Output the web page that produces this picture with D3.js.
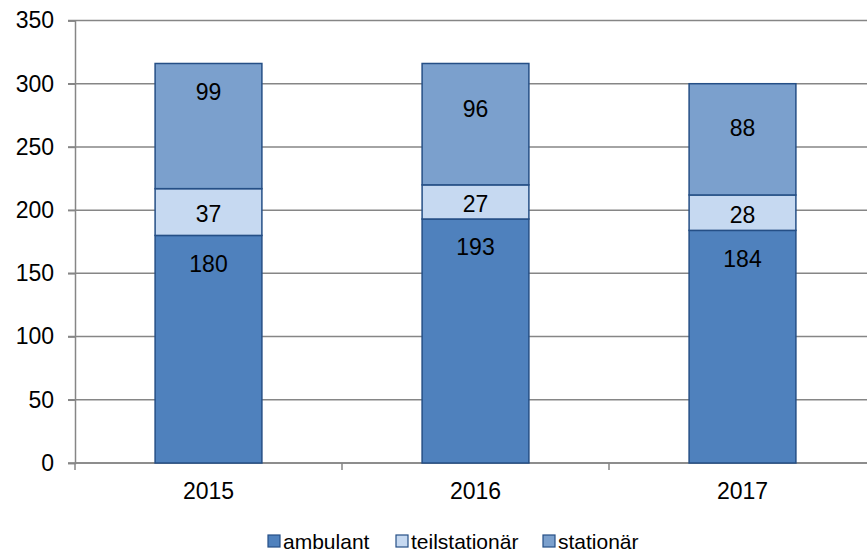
<!DOCTYPE html>
<html><head><meta charset="utf-8">
<script src="https://cdn.jsdelivr.net/npm/d3@7"></script>
<style>body{margin:0;background:#fff}svg{display:block;font-family:"Liberation Sans",Arial,sans-serif}</style>
</head><body>
<svg id="c" width="867" height="552"></svg>
<script>
const years = ["2015", "2016", "2017"];
const seriesNames = ["ambulant", "teilstationär", "stationär"];
const ambulant = [180, 193, 184];
const teilstationaer = [37, 27, 28];
const stationaer = [99, 96, 88];
const yTicks = [0, 50, 100, 150, 200, 250, 300, 350];
const colors = ["#4F81BD", "#C6D9F1", "#7BA0CD"];

(function(){
// label placement (pixels below segment top) for the stationär labels, as in the original
const stationaerLabelDrop = [28, 45, 44];
const rows = years.map((yr, i) => ({year: yr, ambulant: ambulant[i], "teilstationär": teilstationaer[i], "stationär": stationaer[i]}));
const stack = d3.stack().keys(seriesNames)(rows);

const svg = d3.select("#c");
const mLeft = 75, mRight = 876, mTop = 20.5, mBottom = 463;
const x = d3.scaleBand().domain(years).range([mLeft, mRight]).paddingInner(0).paddingOuter(0);
const y = d3.scaleLinear().domain([0, 350]).range([mBottom, mTop]);

svg.append("g").selectAll("line").data(yTicks).join("line")
  .attr("x1", mLeft - 7).attr("x2", 867).attr("y1", d => y(d)).attr("y2", d => y(d))
  .attr("stroke", "#868686").attr("stroke-width", 1.5);

const ya = svg.append("g").attr("transform", `translate(${mLeft},0)`)
  .call(d3.axisLeft(y).tickValues(yTicks).tickSize(7).tickPadding(14));
ya.select(".domain").attr("stroke", "#868686").attr("stroke-width", 1.5);
ya.selectAll(".tick line").attr("stroke", "#868686").attr("stroke-width", 1.5);
ya.selectAll("text").attr("font-size", 23).attr("fill", "#000").attr("font-family", "Liberation Sans, Arial, sans-serif");

const xa = svg.append("g").attr("transform", `translate(0,${mBottom})`)
  .call(d3.axisBottom(x).tickSize(0).tickPadding(20));
xa.select(".domain").remove();
xa.selectAll("text").attr("font-size", 23).attr("fill", "#000").attr("font-family", "Liberation Sans, Arial, sans-serif");
svg.append("g").selectAll("line").data(years).join("line")
  .attr("x1", d => x(d)).attr("x2", d => x(d)).attr("y1", mBottom).attr("y2", mBottom + 7)
  .attr("stroke", "#868686").attr("stroke-width", 1.5);
svg.append("line").attr("x1", mLeft).attr("x2", 867).attr("y1", mBottom).attr("y2", mBottom)
  .attr("stroke", "#868686").attr("stroke-width", 1.5);

const bw = x.bandwidth() * 0.4;
const bx = d => x(d.data.year) + (x.bandwidth() - bw) / 2;

stack.forEach((s, si) => {
  const g = svg.append("g");
  g.selectAll("rect").data(s).join("rect")
    .attr("x", bx).attr("width", bw)
    .attr("y", d => y(d[1])).attr("height", d => y(d[0]) - y(d[1]))
    .attr("fill", colors[si]).attr("stroke", "#254F86").attr("stroke-width", 1.5);
  g.selectAll("text").data(s).join("text")
    .attr("x", d => bx(d) + bw / 2)
    .attr("y", (d, i) => {
      const h = y(d[0]) - y(d[1]);
      const drop = si === 2 ? stationaerLabelDrop[i] : Math.min(28, h / 2 + 2);
      return y(d[1]) + drop;
    })
    .attr("dy", "0.36em")
    .attr("text-anchor", "middle").attr("font-size", 23).attr("fill", "#000")
    .text(d => d[1] - d[0]);
});

const legX = [268, 396, 543];
const leg = svg.append("g");
seriesNames.forEach((n, i) => {
  leg.append("rect").attr("x", legX[i]).attr("y", 535).attr("width", 12).attr("height", 12)
    .attr("fill", colors[i]).attr("stroke", "#254F86").attr("stroke-width", 1.2);
  leg.append("text").attr("x", legX[i] + 15).attr("y", 548.5).attr("font-size", 21).attr("fill", "#000").text(n);
});
})();
</script>
</body></html>
